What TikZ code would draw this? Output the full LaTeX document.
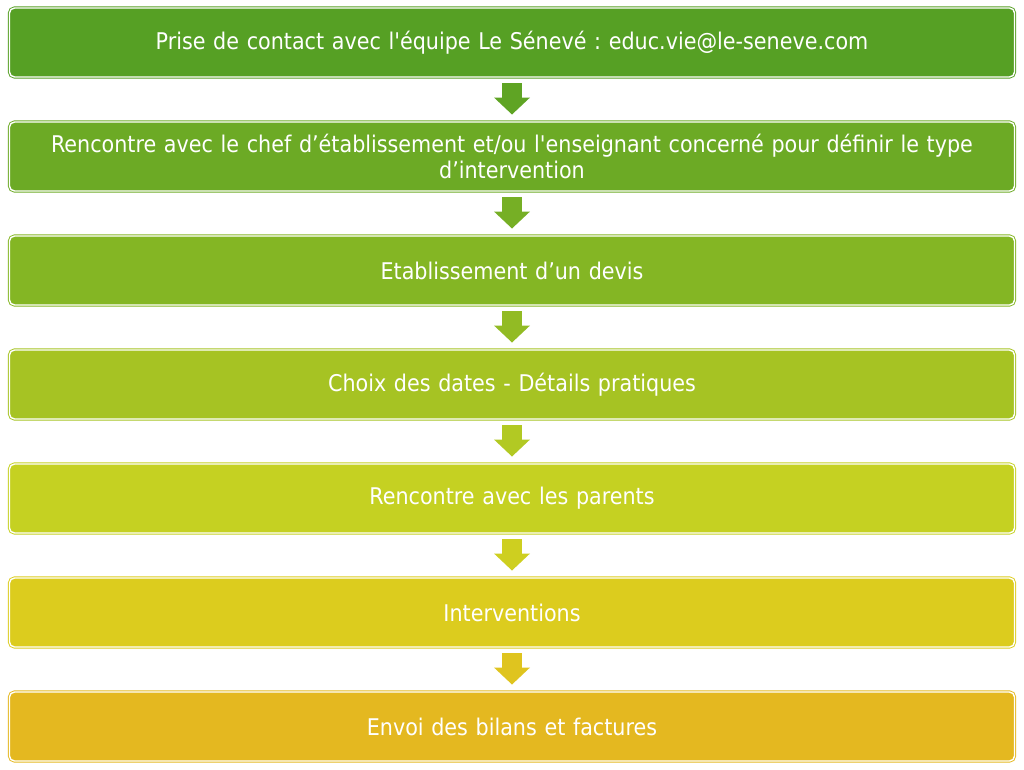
\documentclass[tikz,border=0pt]{standalone}
\usepackage{fontspec}
\setmainfont{DejaVu Sans Condensed}
\usetikzlibrary{arrows.meta}
\frenchspacing

\definecolor{stepA}{RGB}{86,160,36}
\definecolor{stepB}{RGB}{108,170,37}
\definecolor{stepC}{RGB}{132,182,36}
\definecolor{stepD}{RGB}{166,195,35}
\definecolor{stepE}{RGB}{197,209,34}
\definecolor{stepF}{RGB}{220,204,30}
\definecolor{stepG}{RGB}{228,184,32}

\begin{document}
\begin{tikzpicture}[x=1pt, y=-1pt]

      \tikzset{stage/.style={rounded corners=5pt, minimum width=1005pt, minimum height=69pt,
                 inner sep=0pt, text=white, font=\fontsize{23}{26}\selectfont, align=center,
                 text width=970pt, line width=0.9pt, double=white, double distance=1.4pt},
               flow/.style={line width=20pt, -{Triangle[width=35pt, length=17pt]},
                 shorten <=6pt, shorten >=7pt}}
      \useasboundingbox (0,0) rectangle (1024,770);
%% Steps
      	\node[stage, fill=stepA, draw=stepA] (s1) at (512,42.5) {Prise de contact avec l\textquotesingle équipe Le Sénevé : educ.vie@le-seneve.com};
      	\node[stage, fill=stepB, draw=stepB] (s2) at (512,156.5) {Rencontre avec le chef d’établissement et/ou l\textquotesingle enseignant concerné pour définir le type\\d’intervention};
      	\node[stage, fill=stepC, draw=stepC] (s3) at (512,270.5) {Etablissement d’un devis};
      	\node[stage, fill=stepD, draw=stepD] (s4) at (512,384.5) {Choix des dates - Détails pratiques};
      	\node[stage, fill=stepE, draw=stepE] (s5) at (512,498.5) {Rencontre avec les parents};
      	\node[stage, fill=stepF, draw=stepF] (s6) at (512,612.5) {Interventions};
      	\node[stage, fill=stepG, draw=stepG] (s7) at (512,726.5) {Envoi des bilans et factures};
%Arrows
		\path (s1) edge[flow, draw=stepA!60!stepB] (s2);
		\path (s2) edge[flow, draw=stepB!60!stepC] (s3);
		\path (s3) edge[flow, draw=stepC!60!stepD] (s4);
		\path (s4) edge[flow, draw=stepD!60!stepE] (s5);
		\path (s5) edge[flow, draw=stepE!60!stepF] (s6);
		\path (s6) edge[flow, draw=stepF!60!stepG] (s7);

	\end{tikzpicture}
\end{document}
